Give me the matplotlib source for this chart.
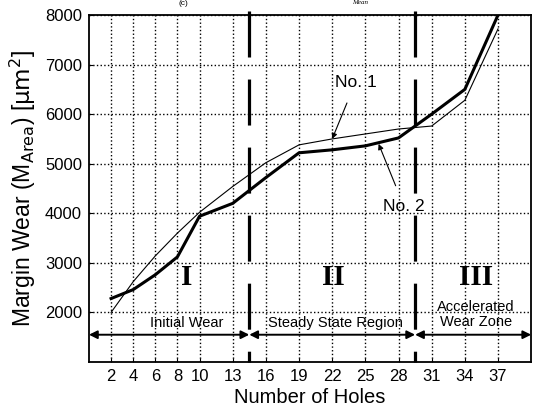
import matplotlib.pyplot as plt

# datos
holes = [2, 4, 6, 8, 10, 13, 16, 19, 22, 25, 28, 31, 34, 37]
no1 = [2000, 2620, 3140, 3600, 4020, 4540, 5020, 5380, 5500, 5600, 5700, 5760, 6280, 7720]
no2 = [2280, 2460, 2760, 3120, 3940, 4200, 4720, 5220, 5280, 5360, 5520, 6000, 6500, 8000]
limits = [14.5, 29.5]
zones = ['I', 'II', 'III']
zone_names = ['Initial Wear', 'Steady State Region', 'Accelerated\nWear Zone']

plt.rcParams['font.family'] = ['Liberation Sans', 'DejaVu Sans']

fig = plt.figure(figsize=(5.36, 4.12), dpi=100)
ax = fig.add_axes([0.166, 0.1214, 0.825, 0.8422])

# curvas
ax.plot(holes, no1, color='black', lw=0.8)
ax.plot(holes, no2, color='black', lw=2.2)

# limites entre zonas
for x in limits:
    ax.plot([x, x], [8080, 1000], color='black', lw=2.3,
            linestyle=(0, (14.4, 6.9)), clip_on=False, zorder=4)

# flechas de zona
y_arr = 1550
edges = [0] + limits + [40]
for a, b in zip(edges[:-1], edges[1:]):
    ax.annotate('', xy=(a, y_arr), xytext=(b, y_arr),
                arrowprops=dict(arrowstyle='<|-|>', color='black', lw=1.4,
                                mutation_scale=12, shrinkA=0, shrinkB=0))

# numeros romanos y nombres de zona
for xc, z in zip([8.8, 22.1, 35], zones):
    ax.text(xc, 2700, z, family='Liberation Serif', fontweight='bold',
            fontsize=21, ha='center', va='center')
ax.text(8.8, 1790, zone_names[0], fontsize=10.5, ha='center', va='center')
ax.text(22.3, 1790, zone_names[1], fontsize=10.5, ha='center', va='center')
ax.text(35, 1950, zone_names[2], fontsize=10.5, ha='center', va='center',
        linespacing=1.1)

# etiquetas de las curvas
ax.annotate('No. 1', xy=(22, 5500), xytext=(24.1, 6640), fontsize=12.5,
            ha='center', va='center',
            arrowprops=dict(arrowstyle='-|>', color='black', lw=0.8,
                            mutation_scale=8, shrinkA=8, shrinkB=0))
ax.annotate('No. 2', xy=(26.2, 5400), xytext=(28.5, 4140), fontsize=12.5,
            ha='center', va='center',
            arrowprops=dict(arrowstyle='-|>', color='black', lw=0.8,
                            mutation_scale=8, shrinkA=8, shrinkB=0))

ax.set_xlim(0, 40)
ax.set_ylim(1000, 8000)
ax.set_xticks(holes)
ax.set_yticks([2000, 3000, 4000, 5000, 6000, 7000, 8000])
ax.tick_params(direction='in', length=3, labelsize=12, pad=5)
ax.grid(True, color='black', linestyle=':', lw=1.0)
for s in ax.spines.values():
    s.set_linewidth(1.3)

ax.set_xlabel('Number of Holes', fontsize=14.5, labelpad=3)
ax.set_ylabel(r'Margin Wear (M$_{\mathrm{Area}}$) [$\mathrm{\mu m}^2$]', fontsize=16.5, labelpad=5)

# restos del titulo (cortado en el original)
fig.text(183 / 536, 1.0, '(c)', fontsize=6, ha='center', va='top')
fig.text(360 / 536, 1.0, 'Mean', fontsize=5, style='italic',
         family='Liberation Serif', ha='center', va='top')

fig.savefig('out.png', dpi=100)
